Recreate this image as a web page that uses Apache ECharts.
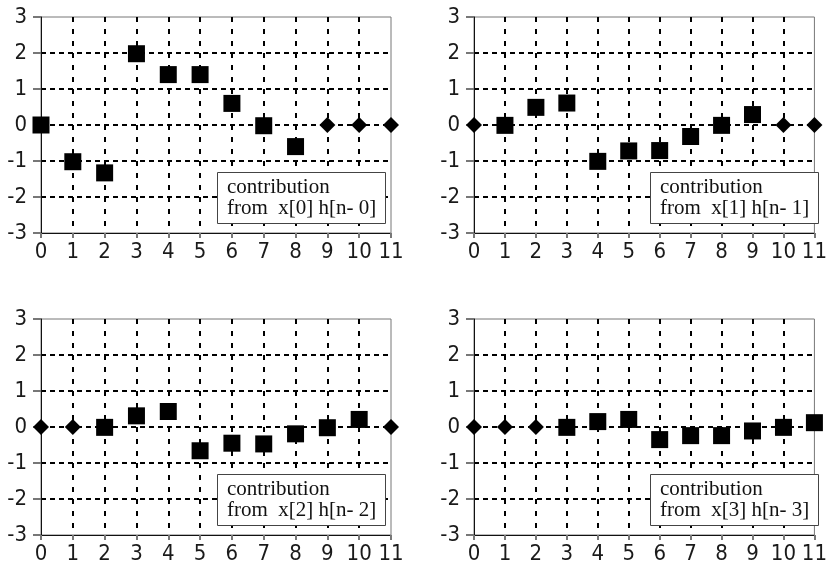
<!DOCTYPE html>
<html>
<head>
<meta charset="utf-8">
<script src="https://cdn.jsdelivr.net/npm/echarts@6/dist/echarts.min.js"></script>
<style>
html,body{margin:0;padding:0;background:#fff;}
#chart{width:830px;height:571px;}
</style>
</head>
<body>
<div id="chart"></div>
<script>
// sample index n
const nValues = [0, 1, 2, 3, 4, 5, 6, 7, 8, 9, 10, 11];
const yTicks = [-3, -2, -1, 0, 1, 2, 3];

// contribution x[k] h[n-k]; squares = non-zero support, diamonds = zero samples
const squares0 = [0, -1.02, -1.33, 1.98, 1.4, 1.4, 0.6, -0.02, -0.6, null, null, null];
const diamonds0 = [null, null, null, null, null, null, null, null, null, 0, 0, 0];

const squares1 = [null, -0.01, 0.49, 0.61, -1.01, -0.72, -0.71, -0.32, -0.01, 0.29, null, null];
const diamonds1 = [0, null, null, null, null, null, null, null, null, null, 0, 0];

const squares2 = [null, null, -0.01, 0.31, 0.43, -0.66, -0.45, -0.47, -0.19, -0.02, 0.21, null];
const diamonds2 = [0, 0, null, null, null, null, null, null, null, null, null, 0];

const squares3 = [null, null, null, -0.01, 0.15, 0.21, -0.35, -0.24, -0.24, -0.11, -0.01, 0.12];
const diamonds3 = [0, 0, 0, null, null, null, null, null, null, null, null, null];

const labels = [
  'contribution\nfrom  x[0] h[n- 0]',
  'contribution\nfrom  x[1] h[n- 1]',
  'contribution\nfrom  x[2] h[n- 2]',
  'contribution\nfrom  x[3] h[n- 3]'
];

const panels = [
  {sq: squares0, dm: diamonds0},
  {sq: squares1, dm: diamonds1},
  {sq: squares2, dm: diamonds2},
  {sq: squares3, dm: diamonds3}
];

const gridPos = [
  {left: 41, top: 17},
  {left: 474, top: 17},
  {left: 41, top: 319},
  {left: 474, top: 319}
];
const GW = 350, GH = 216;
const labelFont = "'Liberation Sans Narrow','DejaVu Sans Condensed','Liberation Sans',sans-serif";

function pairs(vals) {
  const out = [];
  vals.forEach((v, i) => { if (v !== null) out.push([nValues[i], v]); });
  return out;
}

const grid = [], xAxis = [], yAxis = [], series = [], title = [];
gridPos.forEach((g, i) => {
  grid.push({left: g.left, top: g.top, width: GW, height: GH, show: true,
    borderColor: '#777', borderWidth: 1, backgroundColor: 'transparent'});
  xAxis.push({
    type: 'value', gridIndex: i, min: nValues[0], max: nValues[nValues.length - 1], interval: 1,
    axisLine: {show: true, onZero: false, lineStyle: {color: '#111', width: 1}},
    axisTick: {show: true, length: 5, lineStyle: {color: '#777', width: 2}},
    axisLabel: {margin: 8, color: '#1a1a1a', fontSize: 22, fontFamily: labelFont},
    splitLine: {show: true, showMinLine: false, showMaxLine: false,
      lineStyle: {color: '#000', width: 2, type: [5, 7]}}
  });
  yAxis.push({
    type: 'value', gridIndex: i, min: yTicks[0], max: yTicks[yTicks.length - 1], interval: 1,
    axisLine: {show: true, onZero: false, lineStyle: {color: '#111', width: 1}},
    axisTick: {show: true, length: 8, lineStyle: {color: '#777', width: 2}},
    axisLabel: {margin: 14, color: '#1a1a1a', fontSize: 22, fontFamily: labelFont},
    splitLine: {show: true, showMinLine: false, showMaxLine: false,
      lineStyle: {color: '#000', width: 2, type: [5, 4]}}
  });
  series.push({
    type: 'scatter', xAxisIndex: i, yAxisIndex: i, clip: false, z: 5,
    symbol: 'rect', symbolSize: 17, itemStyle: {color: '#000', opacity: 1},
    emphasis: {disabled: true},
    data: pairs(panels[i].sq)
  });
  series.push({
    type: 'scatter', xAxisIndex: i, yAxisIndex: i, clip: false, z: 5,
    symbol: 'diamond', symbolSize: [16, 16], itemStyle: {color: '#000', opacity: 1},
    emphasis: {disabled: true},
    data: pairs(panels[i].dm)
  });
  title.push({
    text: labels[i],
    left: g.left + 176, top: g.top + 155,
    padding: [5, 9, 5, 10],
    borderColor: '#444', borderWidth: 1, backgroundColor: '#fff',
    textStyle: {fontFamily: "'Liberation Serif','Times New Roman',serif", fontSize: 21,
      lineHeight: 21, fontWeight: 'normal', color: '#111'}
  });
});

const chart = echarts.init(document.getElementById('chart'), null, {renderer: 'canvas'});
chart.setOption({
  animation: false,
  backgroundColor: '#fff',
  title, grid, xAxis, yAxis, series
});
</script>
</body>
</html>
